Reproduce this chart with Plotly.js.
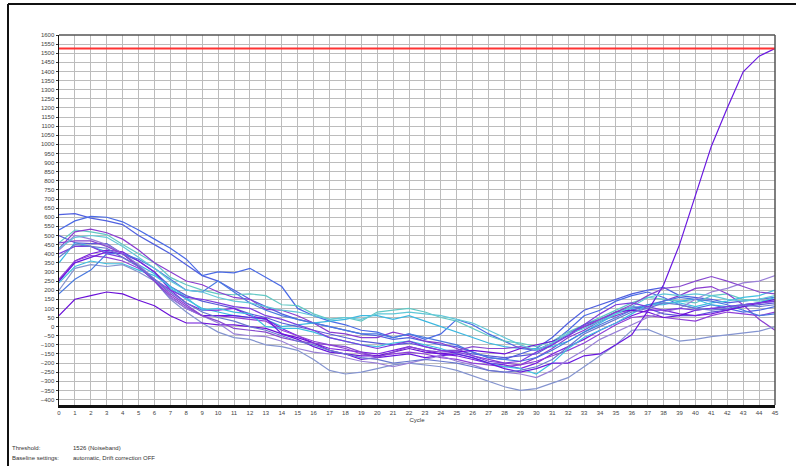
<!DOCTYPE html>
<html>
<head>
<meta charset="utf-8">
<script src="https://cdn.plot.ly/plotly-3.0.1.min.js"></script>
<style>html,body{margin:0;padding:0;background:#fff;}#chart{width:796px;height:466px;}</style>
</head>
<body>
<div id="chart"></div>
<script>
// ---- data ----
const cycles = [0,1,2,3,4,5,6,7,8,9,10,11,12,13,14,15,16,17,18,19,20,21,22,23,24,25,26,27,28,29,30,31,32,33,34,35,36,37,38,39,40,41,42,43,44,45];
const threshold = 1526;

const sA = [615,620,595,580,560,500,450,400,340,280,250,200,150,110,70,40,20,0,-20,-40,-50,-70,-60,-80,-100,-110,-140,-170,-180,-150,-120,-60,20,90,120,150,180,200,215,170,160,150,130,140,150,160];
const sB = [530,580,605,600,575,530,480,430,370,280,300,295,320,270,220,100,60,30,10,-20,-30,-60,-40,-70,-40,40,10,-40,-80,-120,-130,-90,-20,60,90,140,170,190,160,120,100,120,100,80,90,110];
const sC = [460,530,520,505,450,400,350,270,230,200,180,175,180,170,120,115,70,40,50,30,80,90,100,80,50,30,-10,-50,-80,-90,-110,-80,-30,10,50,90,130,160,150,140,130,170,180,150,140,150];
const sD = [430,520,535,515,480,420,350,300,250,230,190,160,150,95,90,60,20,-30,-40,-60,-60,-30,-50,-80,-90,-120,-160,-180,-200,-210,-170,-120,-60,-20,30,60,90,110,140,170,210,220,180,120,40,-20];
const sE = [350,460,440,410,400,340,290,210,150,100,80,60,50,40,0,10,20,30,40,60,60,40,60,30,0,-30,-60,-90,-110,-120,-120,-110,-80,-30,20,70,100,120,120,140,150,120,110,120,130,160];
const sF = [500,460,455,455,400,360,300,220,170,140,120,100,70,50,20,0,-20,-40,-60,-80,-90,-100,-90,-110,-130,-130,-150,-160,-170,-160,-150,-100,-40,10,40,80,110,100,70,60,60,80,90,110,120,130];
const sG = [250,360,400,420,410,360,300,200,130,90,90,100,60,40,-10,-50,-90,-120,-130,-140,-150,-130,-110,-130,-150,-160,-180,-200,-210,-230,-200,-150,-110,-70,-20,20,60,90,90,70,60,70,90,120,130,140];
const sH = [260,360,390,380,360,320,260,180,120,60,60,50,40,30,-20,-50,-80,-100,-120,-150,-160,-150,-140,-150,-170,-180,-200,-210,-220,-210,-190,-160,-130,-90,-40,10,50,60,50,40,30,60,80,70,60,80];
const sI = [240,330,360,345,345,310,280,220,160,90,100,80,70,0,-10,-10,-30,-60,-80,-100,-110,-90,-80,-100,-120,-150,-170,-200,-220,-230,-260,-200,-120,-60,-20,20,70,120,130,130,110,130,140,160,170,200];
const sJ = [200,320,340,330,340,300,250,150,80,20,-30,-60,-70,-100,-110,-130,-180,-240,-260,-250,-230,-210,-200,-210,-220,-240,-270,-300,-330,-350,-340,-310,-280,-220,-160,-100,-20,-15,-50,-80,-70,-55,-45,-35,-25,0];
const sK = [180,260,310,400,400,370,320,260,200,190,250,190,130,90,60,40,20,0,-20,-40,-40,-60,-40,-60,-80,-100,-140,-170,-180,-190,-170,-130,-80,-30,10,50,90,120,140,160,150,140,120,90,60,70];
const sL = [60,150,170,190,180,145,115,60,20,20,10,10,0,-10,-40,-60,-90,-130,-150,-160,-160,-140,-120,-140,-150,-140,-130,-140,-150,-120,-100,-80,-50,0,30,80,90,80,50,60,90,100,90,110,130,150];
const sM = [250,350,380,410,400,330,250,160,100,60,60,60,50,45,-40,-70,-110,-140,-150,-180,-170,-160,-150,-170,-160,-150,-170,-200,-230,-250,-230,-200,-200,-160,-150,-100,-45,85,230,450,720,990,1200,1398,1484,1526];
const sN = [420,500,480,450,400,340,260,160,100,60,20,-40,-50,-55,-80,-120,-140,-150,-170,-190,-200,-220,-200,-180,-160,-190,-210,-240,-250,-260,-280,-240,-180,-130,-70,-30,10,50,80,100,150,190,210,240,250,280];
const sO = [460,470,470,440,400,330,250,170,110,60,30,-10,-20,-30,-60,-80,-90,-100,-110,-140,-170,-140,-110,-130,-140,-130,-110,-120,-120,-110,-130,-90,-40,0,40,80,120,170,210,220,250,275,250,220,190,180];
const sP = [430,490,500,490,440,380,320,250,200,190,160,140,130,110,90,80,60,40,50,40,70,70,80,70,60,40,20,-20,-60,-100,-130,-90,-40,-10,30,70,110,160,180,170,180,170,150,140,150,170];
const sQ = [400,440,440,400,380,330,260,200,160,150,130,110,100,60,40,10,-20,-60,-80,-100,-120,-100,-80,-110,-130,-140,-160,-190,-200,-190,-140,-100,-50,10,70,120,130,110,90,100,90,100,110,120,130,140];
const sR = [380,450,440,430,380,330,260,190,130,80,50,30,0,-20,-50,-80,-100,-130,-150,-170,-180,-200,-190,-180,-190,-200,-220,-240,-250,-240,-220,-180,-110,-40,0,40,80,100,130,120,100,90,100,120,110,120];

const seriesList = [sA,sB,sC,sD,sE,sF,sG,sH,sI,sJ,sK,sL,sM,sN,sO,sP,sQ,sR];
const colorList = ['#5060e0','#4a6ae6','#62c8c4','#8a3cd0','#3cb8e0','#5a5ad8','#7a20e0','#9040d8','#40c0e0','#8494d0','#4a7ae0','#6a10d8','#6a18e0','#9a80d8','#8848d0','#60c8d8','#7c3ce0','#6878d0'];

const traces = seriesList.map((s, i) => ({
  x: cycles, y: s, type: 'scatter', mode: 'lines',
  line: {color: colorList[i], width: 1.2},
  showlegend: false, hoverinfo: 'skip'
}));

const W = 796, H = 466;
const L = 59, R = 21, T = 35, B = 61;
const pw = W - L - R, ph = H - T - B;
const px = v => (v - L) / pw;
const py = v => (H - B - v) / ph;

const layout = {
  width: W, height: H,
  margin: {l: L, r: R, t: T, b: B, pad: 0},
  paper_bgcolor: '#fff', plot_bgcolor: '#fff',
  font: {family: 'Liberation Sans, Arial, sans-serif', size: 6, color: '#333'},
  showlegend: false,
  xaxis: {
    range: [0, 45], dtick: 1, tick0: 0, showgrid: true, gridcolor: '#bcbcbc', gridwidth: 1,
    zeroline: false, showline: true, linecolor: '#111', linewidth: 2.5, mirror: false,
    ticks: '', tickfont: {size: 6, color: '#444'},
    title: {text: 'Cycle', font: {size: 6, color: '#333'}, standoff: 3}
  },
  yaxis: {
    range: [-430, 1600], dtick: 50, tick0: 0, showgrid: true, gridcolor: '#bcbcbc', gridwidth: 1,
    zeroline: false, showline: true, linecolor: '#111', linewidth: 1.5,
    ticks: 'outside', ticklen: 2, tickcolor: '#333', tickfont: {size: 6, color: '#444'}
  },
  shapes: [
    {type: 'line', xref: 'x', yref: 'y', x0: 0, x1: 45, y0: threshold, y1: threshold, line: {color: '#ff3333', width: 1.8}},
    {type: 'line', xref: 'paper', yref: 'paper', x0: 0, x1: 1, y0: 1, y1: 1, line: {color: '#555', width: 1.5}},
    {type: 'line', xref: 'paper', yref: 'paper', x0: 1, x1: 1, y0: 0, y1: 1, line: {color: '#555', width: 1.5}},
    {type: 'line', xref: 'paper', yref: 'paper', x0: px(8), x1: px(800), y0: py(4), y1: py(4), line: {color: '#111', width: 2}},
    {type: 'line', xref: 'paper', yref: 'paper', x0: px(8), x1: px(8), y0: py(4), y1: py(470), line: {color: '#111', width: 2}}
  ],
  annotations: [
    {xref: 'paper', yref: 'paper', x: px(10), y: py(448), xanchor: 'left', yanchor: 'middle', text: 'Threshold:', showarrow: false, font: {size: 6, color: '#333'}},
    {xref: 'paper', yref: 'paper', x: px(71), y: py(448), xanchor: 'left', yanchor: 'middle', text: '1526 (Noiseband)', showarrow: false, font: {size: 6, color: '#333'}},
    {xref: 'paper', yref: 'paper', x: px(10), y: py(458), xanchor: 'left', yanchor: 'middle', text: 'Baseline settings:', showarrow: false, font: {size: 6, color: '#333'}},
    {xref: 'paper', yref: 'paper', x: px(71), y: py(458), xanchor: 'left', yanchor: 'middle', text: 'automatic, Drift correction OFF', showarrow: false, font: {size: 6, color: '#333'}}
  ]
};

Plotly.newPlot('chart', traces, layout, {staticPlot: true, displayModeBar: false});
</script>
</body>
</html>
